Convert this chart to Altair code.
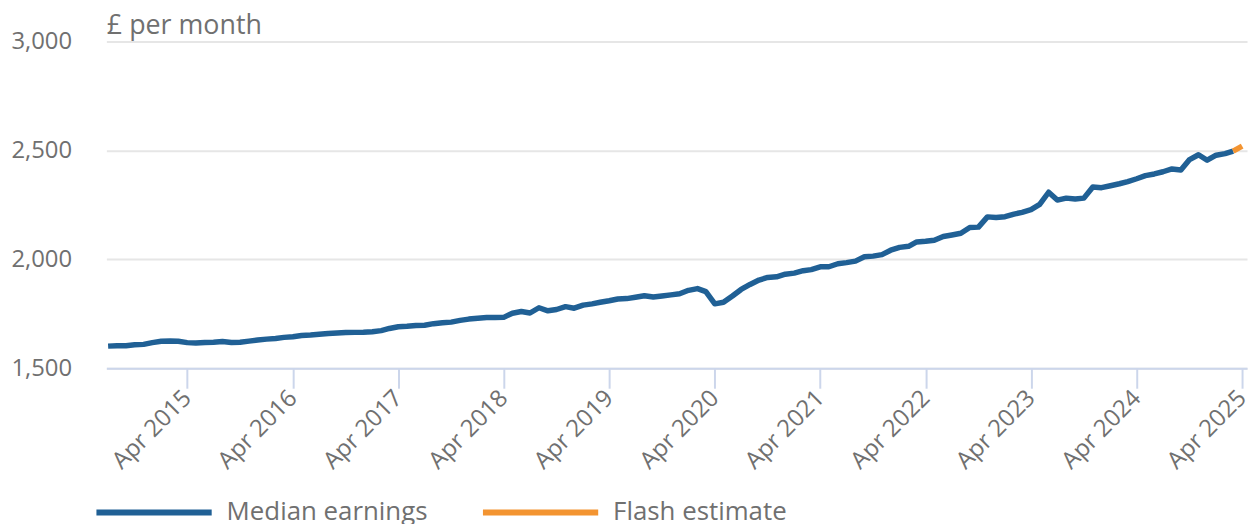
import altair as alt
import pandas as pd

# Monthly median earnings (£ per month), Jul 2014 - Mar 2025
start_year, start_month = 2014, 7
median_values = [
    1602, 1604, 1604, 1608, 1610, 1618,                     # Jul-Dec 2014
    1624, 1625, 1624, 1618, 1616, 1619, 1620, 1623, 1619, 1620, 1625, 1630,  # 2015
    1634, 1637, 1642, 1645, 1651, 1653, 1656, 1660, 1662, 1664, 1665, 1666,  # 2016
    1668, 1673, 1683, 1691, 1693, 1697, 1698, 1705, 1709, 1712, 1720, 1726,  # 2017
    1730, 1733, 1733, 1734, 1753, 1761, 1754, 1778, 1764, 1770, 1783, 1776,  # 2018
    1790, 1796, 1803, 1810, 1818, 1820, 1826, 1833, 1827, 1832, 1837, 1842,  # 2019
    1858, 1866, 1852, 1796, 1803, 1832, 1862, 1885, 1905, 1917, 1920, 1932,  # 2020
    1937, 1948, 1953, 1966, 1966, 1980, 1985, 1992, 2012, 2015, 2022, 2042,  # 2021
    2055, 2060, 2080, 2083, 2088, 2105, 2112, 2120, 2146, 2148, 2195, 2192,  # 2022
    2196, 2208, 2216, 2228, 2252, 2308, 2272, 2281, 2277, 2281, 2332, 2329,  # 2023
    2338, 2347, 2357, 2370, 2384, 2392, 2402, 2415, 2410, 2458, 2480, 2455,  # 2024
    2478, 2485, 2497,                                        # Jan-Mar 2025
]
# Flash estimate: Mar 2025 (joins) -> Apr 2025
flash_dates = ["2025-03-01", "2025-04-01"]
flash_values = [2497, 2520]

series_names = ["Median earnings", "Flash estimate"]
series_colors = ["#206095", "#f39431"]
y_ticks = [1500, 2000, 2500, 3000]
x_tick_years = list(range(2015, 2026))

median_dates = []
y, m = start_year, start_month
for _ in median_values:
    median_dates.append(f"{y:04d}-{m:02d}-01")
    m += 1
    if m > 12:
        m = 1
        y += 1

df = pd.DataFrame({
    "date": median_dates + flash_dates,
    "value": median_values + flash_values,
    "series": [series_names[0]] * len(median_values) + [series_names[1]] * len(flash_values),
})

text_color = "#707070"
font = "Open Sans"

x_enc = alt.X(
    "date:T",
    scale=alt.Scale(
        type="utc",
        domain=[alt.DateTime(year=2014, month=6, date=25, utc=True),
                alt.DateTime(year=2025, month=4, date=18, utc=True)],
    ),
    axis=alt.Axis(
        values=[alt.DateTime(year=yy, month=4, date=1, utc=True) for yy in x_tick_years],
        format="%b %Y",
        labelAngle=-45,
        labelAlign="right",
        labelBaseline="middle",
        labelFontSize=24,
        labelFont=font,
        labelColor=text_color,
        labelPadding=6,
        labelLimit=0,
        tickSize=20,
        tickColor="#ccd6eb",
        tickWidth=2,
        domainColor="#ccd6eb",
        domainWidth=2,
        grid=False,
        title=None,
        labelOverlap=False,
    ),
)

y_enc = alt.Y(
    "value:Q",
    scale=alt.Scale(domain=[1500, 3000], nice=False, zero=False),
    axis=alt.Axis(
        values=y_ticks,
        format=",.0f",
        labelFontSize=24,
        labelFont=font,
        labelColor=text_color,
        labelPadding=35,
        labelLimit=0,
        ticks=False,
        domain=False,
        grid=True,
        gridColor="#e6e6e6",
        gridWidth=2,
        title="£ per month",
        titleAngle=0,
        titleAlign="left",
        titleBaseline="alphabetic",
        titleX=0,
        titleY=-8,
        titleLimit=0,
        titleFont=font,
        titleFontSize=27,
        titleFontWeight="normal",
        titleColor=text_color,
    ),
)

color_enc = alt.Color(
    "series:N",
    scale=alt.Scale(domain=series_names, range=series_colors),
    legend=alt.Legend(
        title=None,
        orient="none",
        legendX=-13,
        legendY=413,
        direction="horizontal",
        symbolType="stroke",
        symbolSize=13456,
        symbolStrokeWidth=6,
        labelFontSize=26,
        labelFont=font,
        labelColor=text_color,
        labelOffset=12,
        labelLimit=0,
        columnPadding=43,
    ),
)

chart = (
    alt.Chart(df)
    .mark_line(strokeWidth=5.5, strokeCap="butt", strokeJoin="round")
    .encode(x=x_enc, y=y_enc, color=color_enc, detail="series:N")
    .properties(
        width=1148,
        height=329,
        autosize=alt.AutoSizeParams(type="none"),
        padding={"left": 99, "top": 32, "right": 4, "bottom": 155},
    )
    .configure_view(stroke=None)
)

chart.save("out.html", embed_options={"renderer": "svg", "actions": False})
